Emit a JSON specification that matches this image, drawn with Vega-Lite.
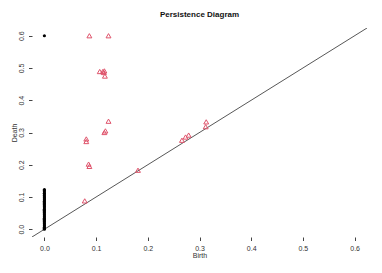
{
  "$schema": "https://vega.github.io/schema/vega-lite/v6.json",
  "autosize": {"type": "none"},
  "padding": {"left": 32, "top": 28, "right": 15, "bottom": 36},
  "width": 335,
  "height": 209,
  "background": "white",
  "title": {"text": "Persistence Diagram", "font": "Liberation Sans", "fontSize": 8, "fontWeight": "bold", "color": "#111", "anchor": "middle", "offset": 9},
  "config": {
    "view": {"stroke": null},
    "axis": {"labelFont": "Liberation Sans", "titleFont": "Liberation Sans", "labelFontSize": 7, "titleFontSize": 7, "titleFontWeight": "normal", "labelColor": "#333", "titleColor": "#333", "tickColor": "#444", "grid": false, "domain": false, "tickSize": 3.5, "labelOverlap": false, "labelFlush": false}
  },
  "datasets": {
    "pts": [
      {"birth": 0, "death": 0.6, "dim": "0"},
      {"birth": 0, "death": 0.123, "dim": "0"},
      {"birth": 0, "death": 0.12, "dim": "0"},
      {"birth": 0, "death": 0.116, "dim": "0"},
      {"birth": 0, "death": 0.112, "dim": "0"},
      {"birth": 0, "death": 0.109, "dim": "0"},
      {"birth": 0, "death": 0.105, "dim": "0"},
      {"birth": 0, "death": 0.101, "dim": "0"},
      {"birth": 0, "death": 0.098, "dim": "0"},
      {"birth": 0, "death": 0.094, "dim": "0"},
      {"birth": 0, "death": 0.091, "dim": "0"},
      {"birth": 0, "death": 0.087, "dim": "0"},
      {"birth": 0, "death": 0.083, "dim": "0"},
      {"birth": 0, "death": 0.08, "dim": "0"},
      {"birth": 0, "death": 0.077, "dim": "0"},
      {"birth": 0, "death": 0.073, "dim": "0"},
      {"birth": 0, "death": 0.07, "dim": "0"},
      {"birth": 0, "death": 0.066, "dim": "0"},
      {"birth": 0, "death": 0.062, "dim": "0"},
      {"birth": 0, "death": 0.059, "dim": "0"},
      {"birth": 0, "death": 0.055, "dim": "0"},
      {"birth": 0, "death": 0.052, "dim": "0"},
      {"birth": 0, "death": 0.048, "dim": "0"},
      {"birth": 0, "death": 0.045, "dim": "0"},
      {"birth": 0, "death": 0.041, "dim": "0"},
      {"birth": 0, "death": 0.038, "dim": "0"},
      {"birth": 0, "death": 0.034, "dim": "0"},
      {"birth": 0, "death": 0.031, "dim": "0"},
      {"birth": 0, "death": 0.027, "dim": "0"},
      {"birth": 0, "death": 0.024, "dim": "0"},
      {"birth": 0, "death": 0.02, "dim": "0"},
      {"birth": 0, "death": 0.017, "dim": "0"},
      {"birth": 0, "death": 0.013, "dim": "0"},
      {"birth": 0, "death": 0.01, "dim": "0"},
      {"birth": 0, "death": 0.006, "dim": "0"},
      {"birth": 0, "death": 0.003, "dim": "0"},
      {"birth": 0, "death": 0.0, "dim": "0"},
      {"birth": 0.087, "death": 0.6, "dim": "1"},
      {"birth": 0.124, "death": 0.6, "dim": "1"},
      {"birth": 0.107, "death": 0.489, "dim": "1"},
      {"birth": 0.113, "death": 0.489, "dim": "1"},
      {"birth": 0.116, "death": 0.491, "dim": "1"},
      {"birth": 0.115, "death": 0.486, "dim": "1"},
      {"birth": 0.117, "death": 0.475, "dim": "1"},
      {"birth": 0.124, "death": 0.335, "dim": "1"},
      {"birth": 0.118, "death": 0.305, "dim": "1"},
      {"birth": 0.116, "death": 0.3, "dim": "1"},
      {"birth": 0.081, "death": 0.28, "dim": "1"},
      {"birth": 0.081, "death": 0.272, "dim": "1"},
      {"birth": 0.0855, "death": 0.202, "dim": "1"},
      {"birth": 0.087, "death": 0.195, "dim": "1"},
      {"birth": 0.078, "death": 0.088, "dim": "1"},
      {"birth": 0.181, "death": 0.183, "dim": "1"},
      {"birth": 0.266, "death": 0.276, "dim": "1"},
      {"birth": 0.273, "death": 0.286, "dim": "1"},
      {"birth": 0.279, "death": 0.292, "dim": "1"},
      {"birth": 0.313, "death": 0.333, "dim": "1"},
      {"birth": 0.312, "death": 0.318, "dim": "1"}
    ],
    "diag": [{"birth": -0.03, "death": -0.03}, {"birth": 0.63, "death": 0.63}]
  },
  "encoding": {
    "x": {"field": "birth", "type": "quantitative", "scale": {"domain": [-0.024, 0.624], "nice": false, "zero": false},
      "axis": {"values": [0, 0.1, 0.2, 0.3, 0.4, 0.5, 0.6], "format": ".1f", "title": "Birth", "labelPadding": 4, "titlePadding": 0}},
    "y": {"field": "death", "type": "quantitative", "scale": {"domain": [-0.024, 0.624], "nice": false, "zero": false},
      "axis": {"values": [0, 0.1, 0.2, 0.3, 0.4, 0.5, 0.6], "format": ".1f", "title": "Death", "labelAngle": -90, "labelAlign": "center", "labelBaseline": "bottom", "labelPadding": 4, "titlePadding": 0}}
  },
  "layer": [
    {
      "data": {"name": "diag"},
      "mark": {"type": "line", "color": "#444", "strokeWidth": 0.9, "clip": true}
    },
    {
      "data": {"values": [{}]},
      "mark": {"type": "rule", "color": "#444", "strokeWidth": 0.9},
      "encoding": {
        "x": {"datum": 0, "type": "quantitative", "axis": {"values": [0, 0.1, 0.2, 0.3, 0.4, 0.5, 0.6], "format": ".1f", "title": "Birth", "labelPadding": 4, "titlePadding": 0}},
        "x2": {"datum": 0.6},
        "y": {"datum": -0.024, "type": "quantitative", "axis": {"values": [0, 0.1, 0.2, 0.3, 0.4, 0.5, 0.6], "format": ".1f", "title": "Death", "labelAngle": -90, "labelAlign": "center", "labelBaseline": "bottom", "labelPadding": 4, "titlePadding": 0}}
      }
    },
    {
      "data": {"values": [{}]},
      "mark": {"type": "rule", "color": "#444", "strokeWidth": 0.9},
      "encoding": {
        "y": {"datum": 0, "type": "quantitative", "axis": {"values": [0, 0.1, 0.2, 0.3, 0.4, 0.5, 0.6], "format": ".1f", "title": "Death", "labelAngle": -90, "labelAlign": "center", "labelBaseline": "bottom", "labelPadding": 4, "titlePadding": 0}},
        "y2": {"datum": 0.6},
        "x": {"datum": -0.024, "type": "quantitative", "axis": {"values": [0, 0.1, 0.2, 0.3, 0.4, 0.5, 0.6], "format": ".1f", "title": "Birth", "labelPadding": 4, "titlePadding": 0}}
      }
    },
    {
      "data": {"name": "pts"},
      "transform": [{"filter": "datum.dim == '0'"}],
      "mark": {"type": "point", "shape": "circle", "filled": true, "color": "black", "size": 10, "opacity": 1}
    },
    {
      "data": {"name": "pts"},
      "transform": [{"filter": "datum.dim == '1'"}],
      "mark": {"type": "point", "shape": "triangle-up", "filled": false, "color": "#DF536B", "size": 24, "strokeWidth": 1, "opacity": 1}
    }
  ]
}
